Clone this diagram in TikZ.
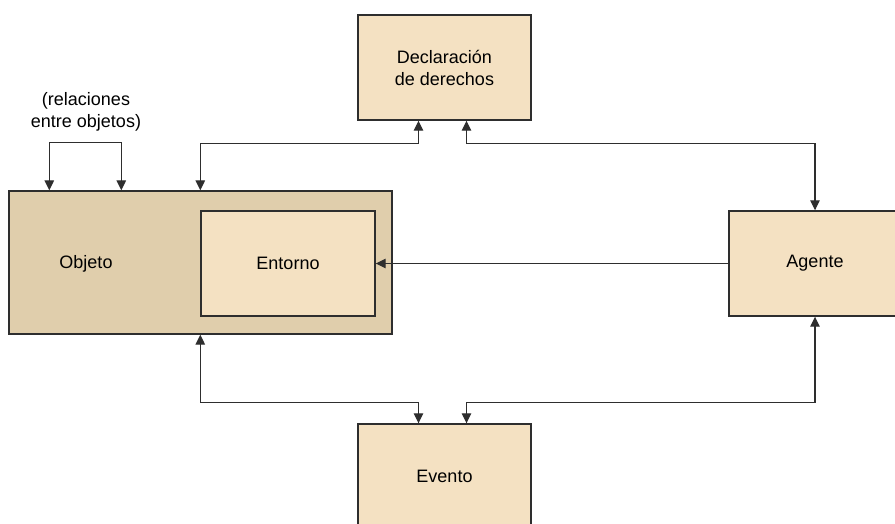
\documentclass[tikz,border=0pt]{standalone}
\usepackage{fontspec}
\setmainfont{Liberation Sans}
\usetikzlibrary{arrows.meta}
\definecolor{paletan}{HTML}{F4E1C2}
\definecolor{darktan}{HTML}{E0CEAC}
\definecolor{edgegray}{HTML}{2E2E2E}
\tikzset{
  box/.style={draw=edgegray, line width=1.4pt, fill=paletan, inner sep=0pt,
    align=center, font=\fontsize{18}{22}\selectfont},
  outerbox/.style={box, fill=darktan},
  lbl/.style={inner sep=0pt, align=center, font=\fontsize{18}{22}\selectfont},
  tip/.tip={Triangle[length=10pt,width=9.5pt]},
  link/.style={draw=edgegray, line width=1.2pt, tip-tip},
  onelink/.style={draw=edgegray, line width=1.2pt, -tip}
}
\begin{document}
\begin{tikzpicture}[x=1pt,y=-1pt]
  \useasboundingbox (0,0) rectangle (895,523);
  \clip (0,0) rectangle (895,523);
  \fill[white] (0,0) rectangle (895,523);

  % boxes
  \node[box, minimum width=173pt, minimum height=105pt] (decl) at (444.5,67.5)
    {Declaración\\de derechos};
  \node[outerbox, minimum width=383pt, minimum height=143pt] (obj) at (200.5,262.5) {};
  \node[box, minimum width=174pt, minimum height=105pt] (ent) at (288,263.5) {Entorno};
  \node[lbl] (objlbl) at (86,263.5) {Objeto};
  \node[box, minimum width=172pt, minimum height=105pt] (agente) at (815,263.5) {Agente};
  \node[box, minimum width=173pt, minimum height=105pt] (evento) at (444.5,476.5) {Evento};
  \node[lbl] (rel) at (86,112) {(relaciones\\entre objetos)};

  % connectors
  \draw[link] ([xshift=41pt]obj.north west) -- ++(0,-48) -| ([xshift=113pt]obj.north west);
  \draw[link] ([xshift=-26pt]decl.south) -- ++(0,23) -| (obj.north -| ent.west);
  \draw[link] ([xshift=22pt]decl.south) -- ++(0,23) -| (agente.north);
  \draw[onelink] (agente.west) -- (ent.east);
  \draw[link] (obj.south -| ent.west) -- ++(0,68) -| ([xshift=-26pt]evento.north);
  \draw[link] (agente.south) -- ++(0,86) -| ([xshift=22pt]evento.north);
\end{tikzpicture}
\end{document}
